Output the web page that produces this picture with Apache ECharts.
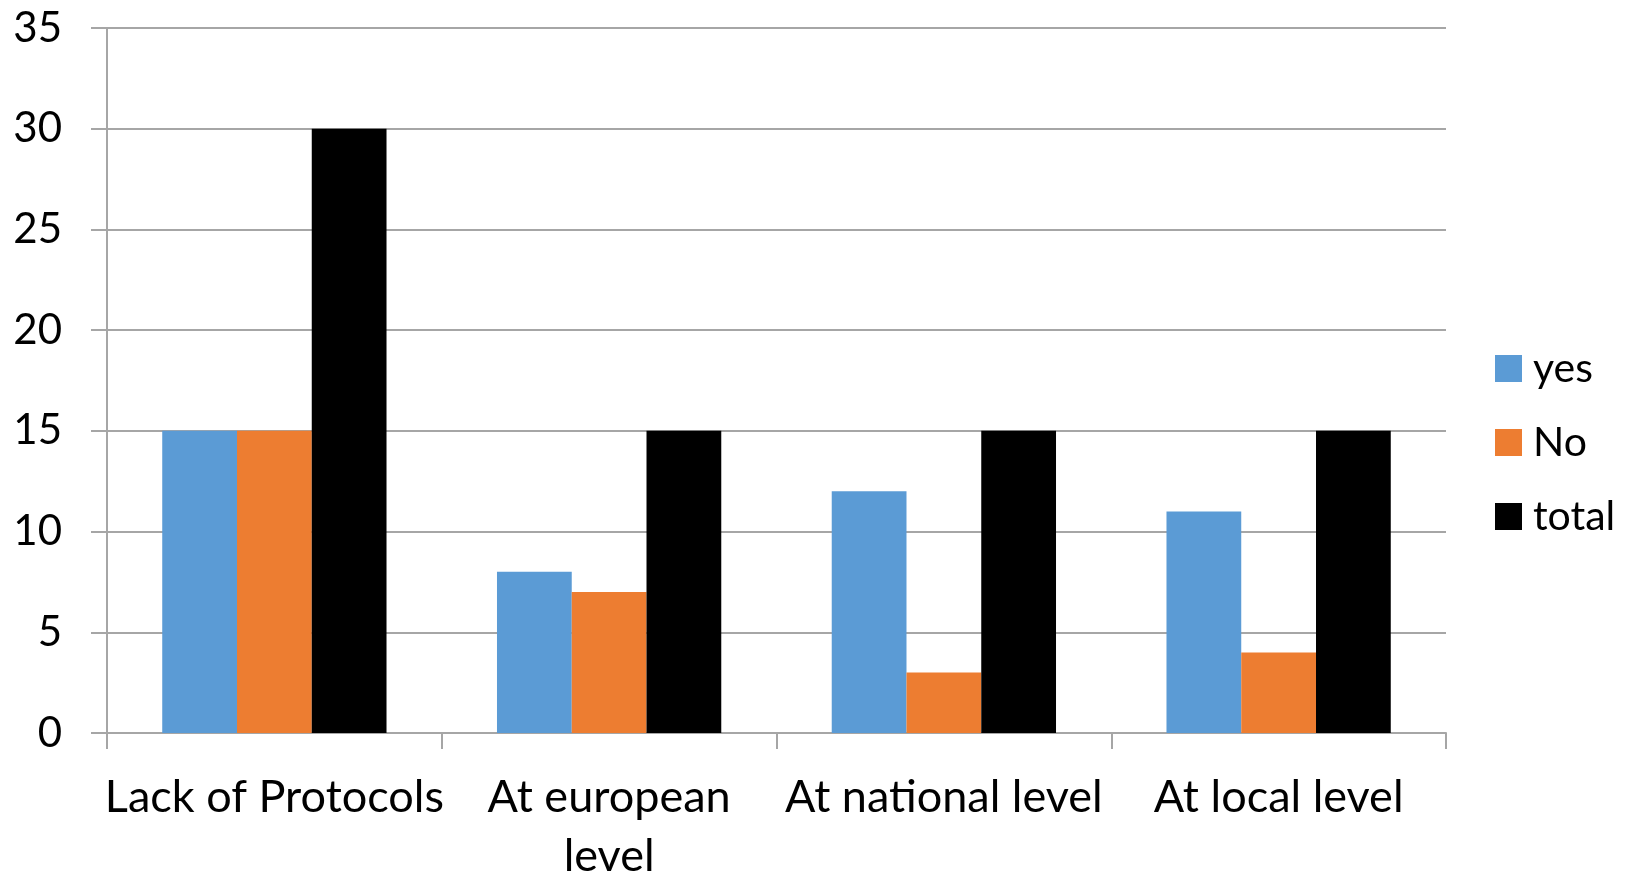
<!DOCTYPE html>
<html><head><meta charset="utf-8">
<script src="https://cdn.jsdelivr.net/npm/echarts@6/dist/echarts.min.js"></script>
<style>html,body{margin:0;padding:0;background:#fff}#c{width:1640px;height:873px}</style>
</head><body><div id="c"></div>
<script>
const categories = ['Lack of Protocols', 'At european level', 'At national level', 'At local level'];
const yesValues = [15, 8, 12, 11];
const noValues = [15, 7, 3, 4];
const totalValues = [30, 15, 15, 15];
const yTicks = [0, 5, 10, 15, 20, 25, 30, 35];

const chart = echarts.init(document.getElementById('c'));
const gray = '#A6A6A6';
chart.setOption({
  animation: false,
  textStyle: { fontFamily: 'Lato' },
  grid: { left: 107, right: 194, top: 28, bottom: 140, containLabel: false, outerBoundsMode: 'none' },
  legend: {
    orient: 'vertical', left: 1490, top: 343,
    itemWidth: 27, itemHeight: 27, itemGap: 33,
    icon: 'rect',
    textStyle: { fontSize: 41, color: '#000', fontFamily: 'Lato', padding: [0, 0, 0, 6] },
    data: ['yes', 'No', 'total']
  },
  xAxis: {
    type: 'category', data: categories,
    axisLine: { lineStyle: { color: gray, width: 2 } },
    axisTick: { show: true, length: 16, lineStyle: { color: gray, width: 2 } },
    axisLabel: {
      interval: 0, fontSize: 45, color: '#000', margin: 35, lineHeight: 59, fontFamily: 'Lato',
      formatter: v => v.replace('european level', 'european\nlevel')
    }
  },
  yAxis: {
    type: 'value', min: yTicks[0], max: yTicks[yTicks.length - 1], interval: 5,
    axisLine: { show: true, lineStyle: { color: gray, width: 2 } },
    axisTick: { show: true, length: 16, lineStyle: { color: gray, width: 2 } },
    splitLine: { show: true, lineStyle: { color: gray, width: 2 } },
    axisLabel: { fontSize: 42, color: '#000', margin: 45, fontFamily: 'Lato' }
  },
  series: [
    { name: 'yes', type: 'bar', data: yesValues, itemStyle: { color: '#5B9BD5' }, barGap: '0%', barCategoryGap: '33%' },
    { name: 'No', type: 'bar', data: noValues, itemStyle: { color: '#ED7D31' } },
    { name: 'total', type: 'bar', data: totalValues, itemStyle: { color: '#000000' } }
  ]
});
</script></body></html>
